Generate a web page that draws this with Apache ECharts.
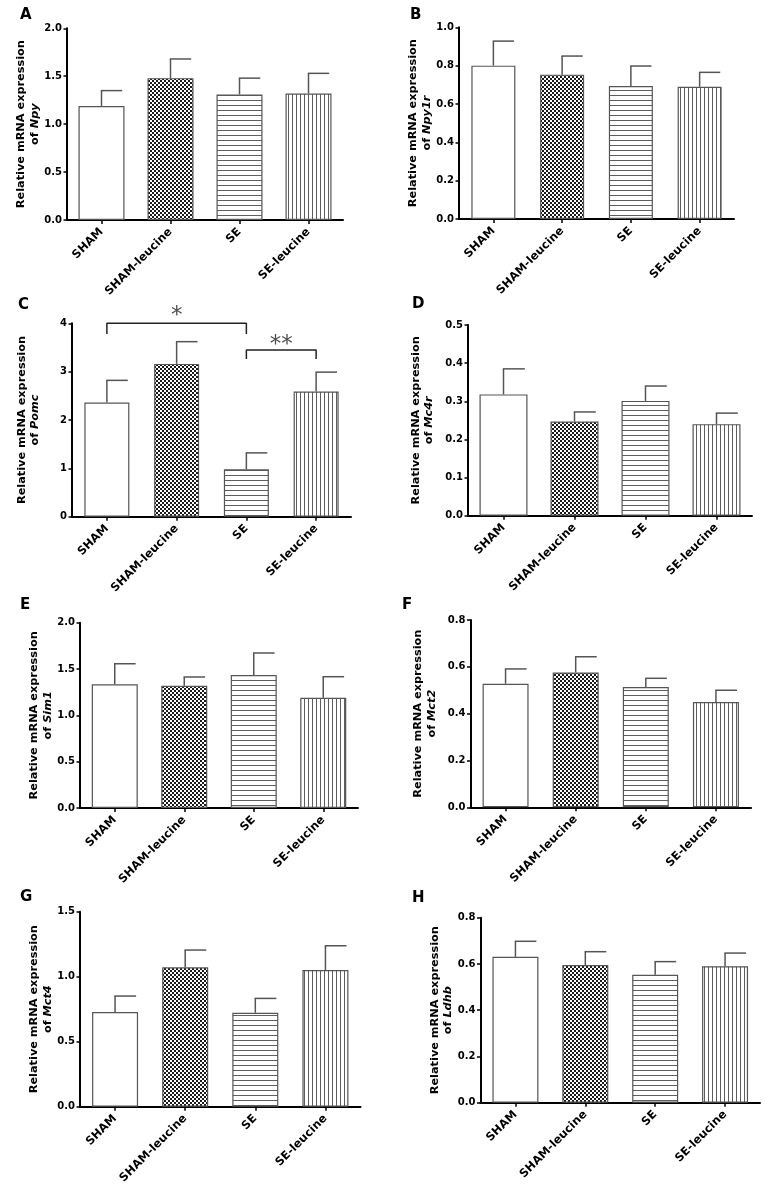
<!DOCTYPE html>
<html><head><meta charset="utf-8">
<script src="https://cdn.jsdelivr.net/npm/echarts@6/dist/echarts.min.js"></script>
<style>html,body{margin:0;padding:0;background:#fff}#c{width:765px;height:1189px}</style>
</head><body><div id="c"></div>
<script>
// ---------- data ----------
const categories = ['SHAM', 'SHAM-leucine', 'SE', 'SE-leucine'];
const panelLetters = ['A', 'B', 'C', 'D', 'E', 'F', 'G', 'H'];
const genes = ['Npy', 'Npy1r', 'Pomc', 'Mc4r', 'Sim1', 'Mct2', 'Mct4', 'Ldhb'];

const meanNpy   = [1.19, 1.48, 1.31, 1.32];
const upperNpy  = [1.35, 1.68, 1.48, 1.53];
const meanNpy1r = [0.80, 0.753, 0.694, 0.69];
const upperNpy1r= [0.928, 0.85, 0.798, 0.765];
const meanPomc  = [2.36, 3.16, 0.98, 2.59];
const upperPomc = [2.82, 3.62, 1.32, 2.99];
const meanMc4r  = [0.318, 0.247, 0.301, 0.240];
const upperMc4r = [0.385, 0.272, 0.340, 0.269];
const meanSim1  = [1.335, 1.32, 1.435, 1.19];
const upperSim1 = [1.557, 1.414, 1.673, 1.417];
const meanMct2  = [0.528, 0.576, 0.514, 0.450];
const upperMct2 = [0.591, 0.643, 0.551, 0.500];
const meanMct4  = [0.728, 1.072, 0.723, 1.051];
const upperMct4 = [0.851, 1.205, 0.833, 1.238];
const meanLdhb  = [0.631, 0.595, 0.553, 0.590];
const upperLdhb = [0.698, 0.653, 0.610, 0.647];

const means  = [meanNpy, meanNpy1r, meanPomc, meanMc4r, meanSim1, meanMct2, meanMct4, meanLdhb];
const uppers = [upperNpy, upperNpy1r, upperPomc, upperMc4r, upperSim1, upperMct2, upperMct4, upperLdhb];

// y-axis ticks
const yMax      = [2.0, 1.0, 4, 0.5, 2.0, 0.8, 1.5, 0.8];
const yStep     = [0.5, 0.2, 1, 0.1, 0.5, 0.2, 0.5, 0.2];
const yDecimals = [1, 1, 0, 1, 1, 1, 1, 1];

// significance brackets (panel C, Pomc): category indices, bar level, leg bottom, star level
const sigFrom   = [0, 2];
const sigTo     = [2, 3];
const sigTop    = [4.0, 3.45];
const sigLeg    = [3.78, 3.26];
const sigText   = ['*', '**'];
const sigTextAt = [4.14, 3.55];

// ---------- layout (pixels) ----------
const layout = [
  {l: 67,  t: 28.3,  w: 276,   h: 191.7, bw: 46, gap: 25, tx: 20,  ty: 8},
  {l: 459, t: 27.3,  w: 275,   h: 191.7, bw: 44, gap: 25, tx: 410, ty: 8},
  {l: 72,  t: 323.3, w: 279,   h: 193.4, bw: 45, gap: 30, tx: 18,  ty: 298},
  {l: 468, t: 325,   w: 284,   h: 190.7, bw: 48, gap: 32, tx: 412, ty: 297},
  {l: 80,  t: 622.7, w: 278,   h: 185.3, bw: 46, gap: 22, tx: 20,  ty: 598},
  {l: 470.5,t: 620,  w: 280.5, h: 187.3, bw: 46, gap: 32, tx: 402, ty: 598},
  {l: 80,  t: 911.7, w: 280.5, h: 195,   bw: 46, gap: 22, tx: 20,  ty: 890},
  {l: 480.5,t: 917.7,w: 279.5, h: 185,   bw: 46, gap: 25, tx: 412, ty: 891}
];

const FONT = 'DejaVu Sans';

function makePattern(w, h, draw) {
  const c = document.createElement('canvas');
  c.width = w; c.height = h;
  const g = c.getContext('2d');
  g.fillStyle = '#ffffff'; g.fillRect(0, 0, w, h);
  draw(g);
  return {image: c, repeat: 'repeat'};
}
const fills = [
  '#ffffff',
  makePattern(4, 4, g => { g.fillStyle = '#1a1a1a'; g.fillRect(0, 0, 2, 2); g.fillRect(2, 2, 2, 2); }),
  makePattern(4, 5, g => { g.fillStyle = '#5e5e5e'; g.fillRect(0, 0, 4, 1); }),
  makePattern(4, 4, g => { g.fillStyle = '#5e5e5e'; g.fillRect(0, 0, 1, 4); })
];

const grid = [], xAxis = [], yAxis = [], series = [], title = [];

layout.forEach((L, i) => {
  grid.push({left: L.l, top: L.t, width: L.w, height: L.h, containLabel: false});
  title.push({text: panelLetters[i], left: L.tx, top: L.ty, padding: 0,
    textStyle: {fontFamily: FONT, fontWeight: 'bold', fontSize: 15, color: '#000'}});
  xAxis.push({
    type: 'category', gridIndex: i, data: categories,
    axisLine: {show: true, onZero: false, lineStyle: {color: '#000', width: 2}},
    axisTick: {show: true, alignWithLabel: true, length: 4, lineStyle: {color: '#000', width: 1.5}},
    axisLabel: {interval: 0, rotate: 45, margin: 10, color: '#000', fontFamily: FONT, fontWeight: 'bold', fontSize: 11.5},
    splitLine: {show: false}
  });
  xAxis.push({type: 'value', gridIndex: i, min: -0.5, max: 3.5, show: false});
  const dec = yDecimals[i];
  yAxis.push({
    type: 'value', gridIndex: i, min: 0, max: yMax[i], interval: yStep[i],
    axisLine: {show: true, onZero: false, lineStyle: {color: '#000', width: 2}},
    axisTick: {show: true, length: 3.5, lineStyle: {color: '#000', width: 1.5}},
    axisLabel: {margin: 5, color: '#000', fontFamily: FONT, fontWeight: 'bold', fontSize: 10,
      formatter: v => v.toFixed(dec)},
    splitLine: {show: false},
    name: '{n|Relative mRNA expression}\n{n|of }{g|' + genes[i] + '}',
    nameLocation: 'middle', nameRotate: 90, nameGap: L.gap,
    nameTextStyle: {rich: {
      n: {fontFamily: FONT, fontWeight: 'bold', fontSize: 11.3, lineHeight: 13.5, color: '#000'},
      g: {fontFamily: FONT, fontWeight: 'bold', fontStyle: 'italic', fontSize: 11.3, lineHeight: 13.5, color: '#000'}
    }}
  });
  series.push({
    type: 'bar', xAxisIndex: 2 * i, yAxisIndex: i, barWidth: L.bw,
    data: means[i].map((v, k) => ({value: v, itemStyle: {color: fills[k], borderColor: '#555', borderWidth: 1.2}})),
    silent: true
  });
  series.push({
    type: 'custom', xAxisIndex: 2 * i, yAxisIndex: i, z: 5,
    encode: {x: 0, y: [1, 2]},
    data: means[i].map((m, k) => [k, m, uppers[i][k]]),
    renderItem: (params, api) => {
      const k = api.value(0);
      const p0 = api.coord([k, api.value(1)]);
      const p1 = api.coord([k, api.value(2)]);
      const cap = api.size([1, 0])[0] * 0.3;
      const st = {stroke: '#555', lineWidth: 1.5};
      return {type: 'group', children: [
        {type: 'line', shape: {x1: p0[0], y1: p0[1], x2: p1[0], y2: p1[1]}, style: st},
        {type: 'line', shape: {x1: p1[0] - 0.7, y1: p1[1], x2: p1[0] + cap, y2: p1[1]}, style: st}
      ]};
    },
    silent: true
  });
});

// significance brackets on panel C (grid 2)
sigFrom.forEach((f, j) => {
  const t = sigTo[j];
  series.push({
    type: 'line', xAxisIndex: 5, yAxisIndex: 2, clip: false, symbol: 'none', z: 6, silent: true,
    lineStyle: {color: '#222', width: 1.5},
    data: [[f, sigLeg[j]], [f, sigTop[j]], [t, sigTop[j]], [t, sigLeg[j]]]
  });
  series.push({
    type: 'scatter', xAxisIndex: 5, yAxisIndex: 2, clip: false, symbolSize: 1, z: 6, silent: true,
    itemStyle: {color: 'rgba(0,0,0,0)'},
    label: {show: true, position: 'inside', formatter: sigText[j], color: '#222',
      fontFamily: FONT, fontSize: 23},
    data: [[(f + t) / 2, sigTextAt[j]]]
  });
});

const chart = echarts.init(document.getElementById('c'), null, {renderer: 'canvas'});
chart.setOption({animation: false, backgroundColor: '#fff', title, grid, xAxis, yAxis, series});
</script>
</body></html>
